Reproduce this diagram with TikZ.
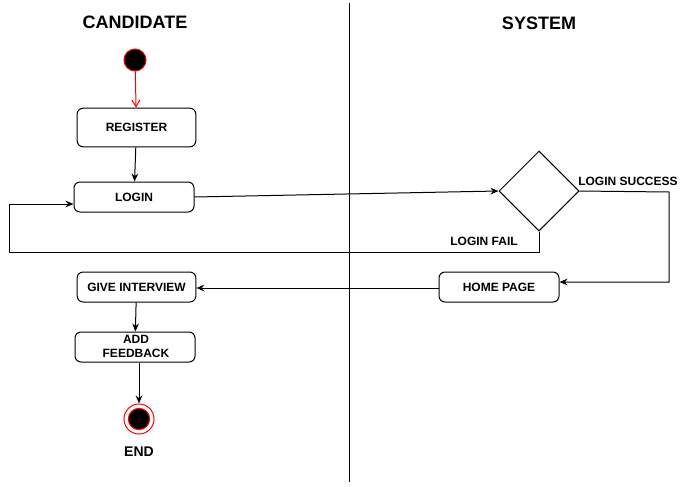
\documentclass[tikz,border=0pt]{standalone}
\usepackage{fontspec}
\setmainfont{Liberation Sans}
\usetikzlibrary{arrows.meta,shapes.geometric}
\begin{document}
\begin{tikzpicture}[x=0.75pt,y=-0.75pt,
  act/.style={draw,rounded corners=4.5pt,line width=0.75pt,minimum width=90pt,minimum height=22.5pt,inner sep=0pt,font=\bfseries\fontsize{9}{9}\selectfont,align=center},
  lbl/.style={font=\bfseries\fontsize{9}{9}\selectfont,inner sep=0pt},
  ttl/.style={font=\bfseries\fontsize{13.5}{13.5}\selectfont,inner sep=0pt},
  conn/.style={line width=0.75pt,-{Stealth[length=6pt,width=5pt]}}]
\useasboundingbox (0,0) rectangle (686,486);
\node[ttl] (tc) at (135,22) {CANDIDATE};
\node[ttl] (ts) at (539,23) {SYSTEM};
\coordinate (lt) at (349,3);
\coordinate (lb) at (349,482);
\draw[line width=0.75pt] (lt) -- (lb);
\node[circle,fill=black,draw=red,line width=0.75pt,minimum size=16.5pt,inner sep=0pt] (start) at (135,60) {};
\node[act,minimum width=89pt,minimum height=29pt] (reg) at (136.5,127.5) {REGISTER};
\node[act] (login) at (134,197) {LOGIN};
\node[diamond,draw,line width=0.75pt,minimum width=60pt,minimum height=60pt,inner sep=0pt] (dec) at (539,191) {};
\node[act] (home) at (499,287) {HOME PAGE};
\node[act,minimum width=89pt] (give) at (136.5,287) {GIVE INTERVIEW};
\node[act] (feed) at (135,347) {};
\node[lbl,align=center,font=\bfseries\fontsize{9}{10.5}\selectfont] (feedt) at (136,346.5) {ADD\\FEEDBACK};
\node[circle,draw=red,line width=0.75pt,minimum size=22.5pt,inner sep=0pt] (end) at (139,419) {};
\node[circle,fill=black,draw=red,line width=0.75pt,minimum size=16pt,inner sep=0pt] (endi) at (139,419) {};
\node[ttl,font=\bfseries\fontsize{10.5}{10.5}\selectfont] (endl) at (139,452) {END};
\node[lbl] (ls) at (628,181) {LOGIN SUCCESS};
\node[lbl] (lf) at (484,241) {LOGIN FAIL};
\draw[line width=0.75pt,red,-{Straight Barb[length=5pt,width=6pt]}] (start) -- (reg);
\draw[conn] (reg) -- (login);
\draw[conn] (login.east) -- (dec.west);
\coordinate (s1) at (669,192);
\coordinate (s2) at (669,282);
\draw[conn] (dec.east) -- (s1) -- (s2) -- (home.east |- s2);
\coordinate (f1) at (539,252);
\coordinate (f2) at (9,252);
\coordinate (f3) at (9,204);
\draw[conn] (dec.south) -- (f1) -- (f2) -- (f3) -- (login.west |- f3);
\draw[conn] (home.west |- 0,288) -- (give.east |- 0,288);
\draw[conn] (give) -- (feed);
\draw[conn] (feed.south -| end) -- (end);
\end{tikzpicture}
\end{document}
